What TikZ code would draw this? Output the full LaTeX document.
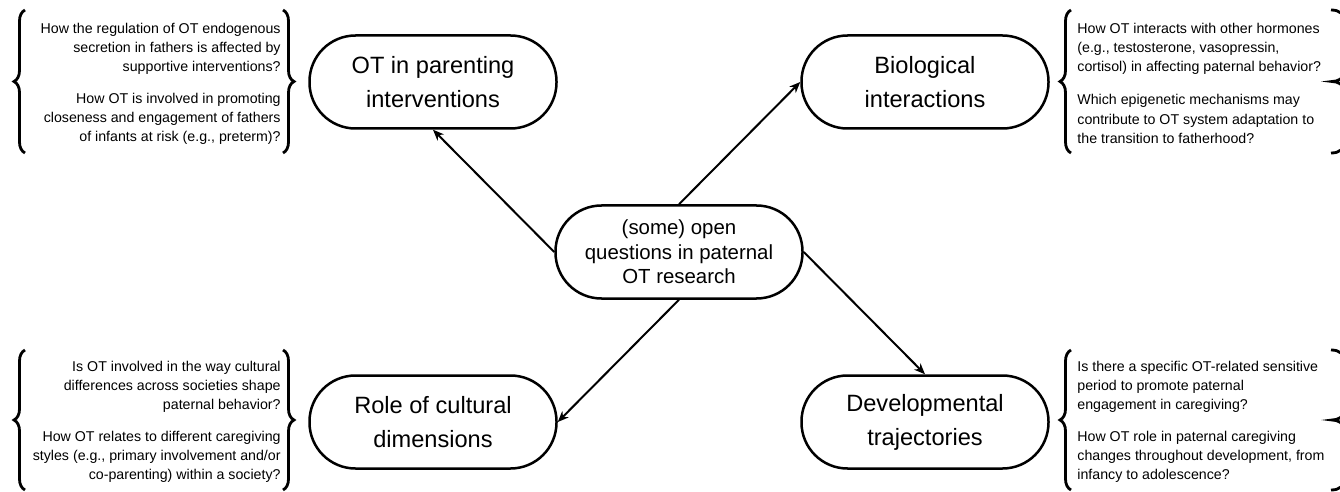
\documentclass[tikz,border=0pt]{standalone}
\usepackage{fontspec}
\setmainfont{Liberation Sans}
\usetikzlibrary{positioning,arrows.meta,decorations.pathreplacing}

\tikzset{
  topic/.style={draw,line width=1.25pt,rounded corners=23pt,minimum width=123.5pt,minimum height=46.5pt,align=center,font=\fontsize{11.8}{17}\selectfont},
  hub/.style={topic,font=\fontsize{10.2}{12.3}\selectfont},
  qleft/.style={inner sep=0pt,anchor=east,align=right,font=\fontsize{7.1}{9.6}\selectfont},
  qright/.style={inner sep=0pt,anchor=west,align=left,font=\fontsize{7.1}{9.6}\selectfont},
  link/.style={line width=1pt,-{Stealth[length=5.5pt,width=4.5pt]}},
  curly/.style={line width=1.4pt,decorate,decoration={brace,amplitude=5.5pt}}
}

\begin{document}
\begin{tikzpicture}[x=0.5pt,y=-0.5pt]
	\useasboundingbox (0,0) rectangle (1340,492);
	
	\node[hub] (open) at (679,252) {(some) open\\questions in paternal\\OT research};
	\node[topic] (parenting) at (433,82) {OT in parenting\\interventions};
	\node[topic] (bio) at (925,82) {Biological\\interactions};
	\node[topic] (culture) at (433,422) {Role of cultural\\dimensions};
	\node[topic] (devel) at (925,422) {Developmental\\trajectories};
	
	\draw[link] (open.west) -- (parenting.south);
	\draw[link] (open.north) -- (bio.west);
	\draw[link] (open.south) -- (culture.east);
	\draw[link] (open.east) -- (devel.north);
	
	\node[qleft] (q1a) at (281,49) {How the regulation of OT endogenous\\secretion in fathers is affected by\\supportive interventions?};
	\node[qleft] (q1b) at (281,119) {How OT is involved in promoting\\closeness and engagement of fathers\\of infants at risk (e.g., preterm)?};
	\node[qright] (q2a) at (1077,49) {How OT interacts with other hormones\\(e.g., testosterone, vasopressin,\\cortisol) in affecting paternal behavior?};
	\node[qright] (q2b) at (1077,119) {Which epigenetic mechanisms may\\contribute to OT system adaptation to\\the transition to fatherhood?};
	\node[qleft] (q3a) at (281,387) {Is OT involved in the way cultural\\differences across societies shape\\paternal behavior?};
	\node[qleft] (q3b) at (281,457) {How OT relates to different caregiving\\styles (e.g., primary involvement and/or\\co-parenting) within a society?};
	\node[qright] (q4a) at (1077,387) {Is there a specific OT-related sensitive\\period to promote paternal\\engagement in caregiving?};
	\node[qright] (q4b) at (1077,457) {How OT role in paternal caregiving\\changes throughout development, from\\infancy to adolescence?};
	
	\foreach \t/\b in {10/153,350/490} {
		\draw[curly] (25,\b) -- (25,\t);
		\draw[curly] (283,\t) -- (283,\b);
		\draw[curly] (1071,\b) -- (1071,\t);
		\draw[line width=1.4pt] (1331,\t) .. controls (1340,\t) and (1344,\t+4) .. (1344,\t+12)
			-- (1344,{(\t+\b)/2-10}) .. controls (1344,{(\t+\b)/2-3}) and (1338,{(\t+\b)/2}) .. (1332,{(\t+\b)/2})
			.. controls (1338,{(\t+\b)/2}) and (1344,{(\t+\b)/2+3}) .. (1344,{(\t+\b)/2+10})
			-- (1344,\b-12) .. controls (1344,\b-4) and (1340,\b) .. (1331,\b);
	}
\end{tikzpicture}
\end{document}
